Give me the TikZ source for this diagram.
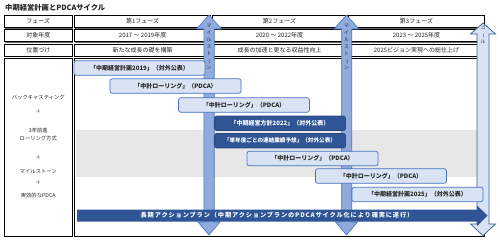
\documentclass[tikz,border=0pt]{standalone}
\usepackage{fontspec}
\usepackage{graphicx}
\setmainfont{Noto Sans CJK JP}
\newfontfamily\spacedfont[LetterSpace=14]{Noto Sans CJK JP}
\usetikzlibrary{shadows}
\definecolor{lblue}{HTML}{DAE3F3}
\definecolor{mblue}{HTML}{4472C4}
\definecolor{dblue}{HTML}{2F5597}
\definecolor{msblue}{HTML}{8FAADC}
\definecolor{bandgray}{HTML}{E7E7E7}
\definecolor{txt}{HTML}{262626}
\begin{document}
\begin{tikzpicture}[x=1pt,y=-1pt,
  cell/.style={draw=black, line width=0.5pt, fill=white, inner sep=0pt, text=txt,
    drop shadow={shadow xshift=0.3pt, shadow yshift=-1.4pt, opacity=1, fill=black!60},
    font=\fontsize{6}{7}\selectfont},
  lefttxt/.style={inner sep=0pt, text=txt, font=\fontsize{5.3}{6}\selectfont},
  lbar/.style={draw=mblue, fill=lblue, line width=0.7pt, rounded corners=2.2pt,
    minimum width=131pt, minimum height=14.5pt, inner sep=0pt, text=txt,
    font=\fontsize{6}{7}\selectfont\bfseries},
  dbar/.style={lbar, draw=dblue!85!black, fill=dblue, text=white},
  msarrow/.style={fill=msblue, draw=mblue, line width=0.6pt, line join=miter},
  goalarrow/.style={fill=lblue, draw=mblue!80!black, line width=0.7pt, line join=miter},
  vtxt/.style={inner sep=0pt, align=center, text=txt, font=\fontsize{4.8}{6.9}\selectfont},
]
\useasboundingbox (0,0) rectangle (500,242);
\fill[white] (0,0) rectangle (500,242);

% title
\node[anchor=west, inner sep=0pt, text=txt, font=\fontsize{7.3}{8}\selectfont\bfseries] (title) at (5,8) {中期経営計画とPDCAサイクル};

% header rows
\node[cell, minimum width=68pt, minimum height=12.3pt] (f0) at (38.3,21.15) {フェーズ};
\node[cell, minimum width=135.8pt, minimum height=12.3pt] (f1) at (142.6,21.15) {第1フェーズ};
\node[cell, minimum width=135pt, minimum height=12.3pt] (f2) at (279.5,21.15) {第2フェーズ};
\node[cell, minimum width=136pt, minimum height=12.3pt] (f3) at (416.5,21.15) {第3フェーズ};

\node[cell, minimum width=68pt, minimum height=12.2pt] (y0) at (38.3,35.6) {対象年度};
\node[cell, minimum width=135.8pt, minimum height=12.2pt] (y1) at (142.6,35.6) {2017 ～ 2019年度};
\node[cell, minimum width=135pt, minimum height=12.2pt] (y2) at (279.5,35.6) {2020 ～ 2022年度};
\node[cell, minimum width=136pt, minimum height=12.2pt] (y3) at (416.5,35.6) {2023 ～ 2025年度};

\node[cell, minimum width=68pt, minimum height=12pt] (p0) at (38.3,50) {位置づけ};
\node[cell, minimum width=135.8pt, minimum height=12pt] (p1) at (142.6,50) {新たな成長の礎を構築};
\node[cell, minimum width=135pt, minimum height=12pt] (p2) at (279.5,50) {成長の加速と更なる収益性向上};
\node[cell, minimum width=136pt, minimum height=12pt] (p3) at (416.5,50) {2025ビジョン実現への総仕上げ};

% body boxes
\node[cell, minimum width=68pt, minimum height=177.5pt] (lbody) at (38.3,147.25) {};
\node[cell, minimum width=409.8pt, minimum height=177.5pt] (rbody) at (279.6,147.25) {};

% gray band
\fill[bandgray] (76,130) rectangle (484,177);

% left column text
\node[lefttxt] (l1) at (38.3,98) {バックキャスティング};
\node[lefttxt] (l2) at (38.3,112) {＋};
\node[lefttxt] (l3) at (38.3,130.5) {3年前進};
\node[lefttxt] (l4) at (38.3,138.5) {ローリング方式};
\node[lefttxt] (l5) at (38.3,158) {＋};
\node[lefttxt] (l6) at (38.3,172) {マイルストーン};
\node[lefttxt] (l7) at (38.3,183) {＋};
\node[lefttxt] (l8) at (38.3,195.5) {実効的なPDCA};

% milestone arrows
\foreach \cx in {209,346.5}{
  \draw[msarrow] ({\cx-5.2},29) -- ({\cx-12.5},29) -- (\cx,15) -- ({\cx+12.5},29) -- ({\cx+5.2},29)
    -- ({\cx+5.2},222) -- ({\cx+11},222) -- (\cx,235) -- ({\cx-11},222) -- ({\cx-5.2},222) -- cycle;
}
% goal arrow
\draw[goalarrow] (477,34) -- (470.5,34) -- (483,23) -- (495.5,34) -- (489,34)
  -- (489,224) -- (495.5,224) -- (483,235.5) -- (470.5,224) -- (477,224) -- cycle;

% milestone / goal labels
\node[vtxt, anchor=north] (m1t) at (209,24.5) {マ\\イ\\ル\\ス\\ト\\\rotatebox[origin=c]{-90}{ー}\\ン};
\node[vtxt, anchor=north] (m2t) at (346.5,24.5) {マ\\イ\\ル\\ス\\ト\\\rotatebox[origin=c]{-90}{ー}\\ン};
\node[vtxt, anchor=north] (gt) at (483,25.5) {ゴ\\\rotatebox[origin=c]{-90}{ー}\\ル};

% bars
\node[lbar] (b1) at (139.5,68) {「中期経営計画2019」（対外公表）};
\node[lbar] (b2) at (175.5,86) {「中計ローリング」（PDCA）};
\node[lbar] (b3) at (244,105) {「中計ローリング」（PDCA）};
\node[dbar] (b4) at (280,123.3) {「中期経営方針2022」（対外公表）};
\node[dbar, font=\fontsize{5.6}{7}\selectfont\bfseries] (b5) at (280,140.7) {「単年度ごとの連結業績予想」（対外公表）};
\node[lbar] (b6) at (312.5,158.5) {「中計ローリング」（PDCA）};
\node[lbar] (b7) at (381,176) {「中計ローリング」（PDCA）};
\node[lbar] (b8) at (417.5,194.5) {「中期経営計画2025」（対外公表）};

% long action plan arrow
\fill[dblue] (77,209.5) -- (477,209.5) -- (477,205.5) -- (487.5,215.5) -- (477,226) -- (477,221.5) -- (77,221.5) -- cycle;
\node[inner sep=0pt, text=white, font=\fontsize{6.2}{7}\spacedfont\bfseries] (lt) at (277,215.5) {長期アクションプラン（中期アクションプランのPDCAサイクル化により確実に遂行）};
\end{tikzpicture}
\end{document}
